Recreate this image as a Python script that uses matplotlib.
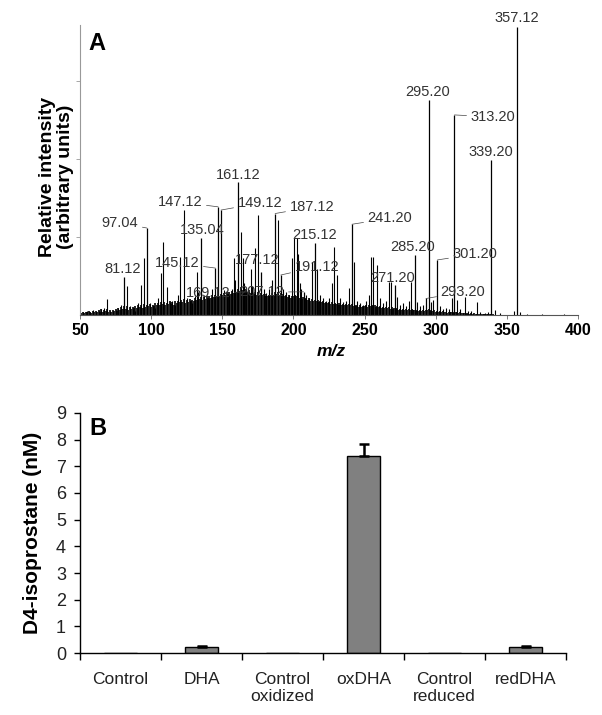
import numpy as np
import matplotlib
matplotlib.use("Agg")
import matplotlib.pyplot as plt

plt.rcParams['font.family'] = ['Liberation Sans', 'DejaVu Sans']

# ---- panel A: MS/MS spectrum (relative intensity, % of base peak) ----
# labelled peaks: m/z, intensity, label position (m/z, intensity), leader line?
peak_mz = [357.12, 295.20, 313.20, 339.20, 161.12, 149.12, 147.12, 187.12, 241.20,
           97.04, 135.04, 215.12, 285.20, 301.20, 177.12, 145.12, 191.12, 81.12,
           271.20, 293.20, 169.12, 207.12]
peak_int = [99.3, 74.1, 69.0, 53.4, 46.0, 36.2, 37.3, 35.0, 31.3,
            30.0, 26.4, 24.7, 20.7, 19.0, 15.0, 16.2, 13.8, 13.2,
            10.3, 5.7, 8.0, 8.0]
label_x = [357.1, 294.6, 340.3, 338.8, 161.0, 176.5, 120.3, 213.0, 267.9,
           78.1, 135.7, 215.2, 284.0, 327.6, 174.4, 118.2, 216.6, 80.2,
           270.0, 319.2, 140.0, 177.9]
label_y = [102.4, 76.9, 68.3, 56.2, 48.3, 38.6, 39.0, 37.2, 33.4,
           31.7, 29.3, 27.6, 23.4, 21.0, 19.0, 17.9, 16.6, 15.9,
           12.8, 7.9, 7.6, 7.9]
leader = [False, False, True, False, False, True, True, True, True,
          True, False, False, False, True, False, True, True, False,
          False, True, True, True]

# other unlabelled peaks
minor_mz = [52, 55, 57, 59, 61, 63, 65, 67, 68.7, 71, 73, 75, 77, 79, 83, 85, 87, 89,
            91, 93, 95, 99, 101, 103, 105, 106.7, 108.4, 111, 113, 115, 117, 119,
            120.3, 122.9, 125, 127, 129, 131, 132, 133, 137, 139, 141, 143, 151, 153,
            155, 157, 158, 159, 163, 164.7, 165, 167, 170.5, 171, 173, 174.9, 179,
            181, 183, 185, 189, 193, 195, 197, 199.2, 200.6, 202.2, 203, 204.6, 205,
            209, 211, 212.8, 216.8, 219, 221, 223, 225, 226.9, 228.7, 230.4, 233, 235,
            237, 239.3, 242.6, 245, 247, 249, 251, 253, 254.5, 256.2, 258.5, 261, 263,
            265, 267.2, 268.6, 272.6, 275, 277, 279, 281, 282.6, 286.6, 289, 291, 297,
            298.2, 303, 305, 307, 309, 311.2, 314.8, 317, 320.6, 323, 325, 328.8, 331,
            335, 337, 341.7, 345, 355, 359, 364.5, 375, 390]
minor_int = [1.0, 1.5, 1.2, 1.8, 1.0, 1.3, 2.0, 2.5, 5.5, 1.5, 1.2, 1.8, 2.5, 3.5, 10.0,
             3.0, 2.2, 1.5, 4.0, 10.3, 19.6, 4.0, 3.0, 2.5, 6.0, 14.4, 25.2, 9.5, 4.5,
             5.0, 3.5, 7.0, 20.0, 36.2, 6.0, 5.0, 4.0, 6.5, 14.8, 8.0, 7.0, 5.5, 6.0,
             9.0, 8.5, 6.0, 7.0, 9.0, 19.6, 12.0, 28.7, 19.6, 11.0, 9.0, 16.0, 10.0,
             23.0, 34.5, 9.0, 7.5, 9.0, 12.0, 32.8, 9.0, 8.0, 7.0, 19.6, 26.4, 26.4,
             21.0, 11.0, 9.0, 7.0, 6.0, 18.4, 16.0, 7.0, 6.0, 5.0, 6.0, 11.0, 23.3,
             13.8, 6.0, 4.5, 5.0, 9.2, 18.4, 5.0, 4.0, 3.5, 5.0, 7.0, 20.0, 20.0, 17.2,
             6.0, 4.0, 5.0, 11.5, 11.5, 6.3, 3.5, 4.0, 3.0, 5.0, 11.5, 4.6, 3.0, 3.5,
             4.5, 5.2, 3.0, 2.0, 2.5, 2.0, 5.7, 5.2, 2.0, 6.3, 1.5, 1.5, 4.6, 1.0, 0.8,
             1.2, 1.7, 0.6, 1.5, 1.0, 0.5, 0.5, 0.5]

# baseline "grass", one value per integer m/z from 50 upwards
grass_start = 50
grass_int = [0.5, 0.8, 1.0, 0.6, 1.2, 0.9, 1.5, 1.0, 0.8, 1.3,
             1.0, 1.4, 0.9, 1.6, 1.2, 2.0, 1.1, 1.8, 1.4, 2.2,
             1.2, 1.6, 1.0, 1.9, 1.3, 2.1, 1.5, 2.4, 1.7, 2.8,
             2.0, 3.0, 2.2, 3.2, 1.8, 2.6, 2.0, 2.9, 2.3, 3.1,
             2.5, 3.4, 2.7, 3.6, 2.4, 3.8, 2.9, 3.5, 3.0, 3.9,
             2.8, 3.6, 3.1, 4.0, 3.3, 4.2, 3.5, 4.4, 3.8, 4.6,
             3.4, 4.1, 3.7, 4.8, 3.9, 4.5, 3.6, 5.0, 4.2, 4.7,
             4.4, 5.2, 4.6, 5.4, 4.1, 5.1, 4.5, 5.6, 4.8, 5.3,
             5.0, 5.8, 5.2, 6.0, 5.4, 6.3, 5.1, 6.1, 5.5, 6.4,
             5.8, 6.5, 6.0, 6.8, 6.2, 7.0, 6.4, 7.2, 6.6, 7.4,
             6.8, 7.5, 7.0, 7.8, 7.2, 8.0, 7.4, 8.3, 7.6, 8.5,
             8.0, 9.0, 8.4, 9.5, 8.8, 9.2, 8.2, 8.9, 7.8, 8.6,
             7.5, 8.2, 7.2, 8.0, 7.0, 7.8, 6.9, 7.6, 6.8, 7.4,
             6.6, 7.2, 6.5, 7.0, 6.8, 7.5, 6.9, 7.8, 7.2, 8.0,
             7.0, 7.6, 6.8, 7.2, 6.5, 7.0, 6.2, 6.8, 6.0, 6.6,
             6.4, 7.0, 6.5, 6.9, 6.0, 6.4, 5.6, 6.1, 5.4, 5.9,
             5.2, 5.7, 5.0, 5.5, 4.8, 5.3, 4.7, 5.1, 4.5, 4.9,
             4.4, 4.8, 4.2, 4.6, 4.0, 4.5, 3.9, 4.4, 3.8, 4.3,
             3.7, 4.2, 3.6, 4.0, 3.5, 3.9, 3.4, 3.8, 3.3, 3.7,
             3.4, 3.9, 3.2, 3.6, 3.0, 3.4, 2.9, 3.3, 2.8, 3.2,
             3.0, 3.5, 2.9, 3.3, 3.1, 3.6, 3.0, 3.4, 2.8, 3.2,
             2.7, 3.0, 2.5, 2.9, 2.4, 2.8, 2.3, 2.7, 2.2, 2.6,
             2.2, 2.5, 2.0, 2.4, 1.9, 2.2, 1.8, 2.1, 1.7, 2.0,
             1.8, 2.1, 1.7, 2.0, 1.6, 1.9, 1.5, 1.8, 1.4, 1.7,
             1.5, 1.8, 1.4, 1.9, 1.6, 2.0, 1.5, 1.8, 1.3, 1.6,
             1.2, 1.5, 1.1, 1.4, 1.0, 1.3, 0.9, 1.2, 0.8, 1.1,
             0.9, 1.2, 0.8, 1.1, 0.9, 1.0, 0.7, 0.9, 0.6, 0.8,
             0.7, 0.8, 0.5, 0.7, 0.5, 0.6, 0.4, 0.6, 0.4, 0.5,
             0.4, 0.5, 0.3, 0.4, 0.3, 0.4, 0.3, 0.4, 0.3, 0.4, 0.3]

# ---- panel B: D4-isoprostane ----
groups = ['Control', 'DHA', 'Control\noxidized', 'oxDHA', 'Control\nreduced', 'redDHA']
conc = [0.0, 0.22, 0.0, 7.38, 0.0, 0.22]
conc_err = [0.0, 0.05, 0.0, 0.47, 0.0, 0.05]

fig = plt.figure(figsize=(6.02, 7.15), dpi=100)

axA = fig.add_axes([0.1329, 0.5594, 0.8272, 0.4056])
grass_mz = grass_start + np.arange(len(grass_int))
axA.vlines(grass_mz, 0, grass_int, color='black', lw=1.2)
axA.vlines(minor_mz, 0, minor_int, color='black', lw=0.8)
axA.vlines(peak_mz, 0, peak_int, color='black', lw=0.9)
for i, lab in enumerate(peak_mz):
    props = dict(arrowstyle='-', lw=0.5, color='#444444', shrinkA=1, shrinkB=0) if leader[i] else None
    axA.annotate(f"{lab:.2f}", xy=(peak_mz[i], peak_int[i]), xytext=(label_x[i], label_y[i]),
                 ha='center', va='center', fontsize=10.5, color='#333333',
                 arrowprops=props, annotation_clip=False)
axA.set_xlim(50, 400)
axA.set_ylim(0, 100)
axA.set_xticks([50, 100, 150, 200, 250, 300, 350, 400])
axA.set_yticks([26.9, 53.8, 80.7])
axA.set_yticklabels([])
axA.tick_params(axis='x', length=3, width=0.6, pad=3, labelsize=11.5, color='#666666')
axA.tick_params(axis='y', length=3, width=0.6, color='#999999')
for lab in axA.get_xticklabels():
    lab.set_fontweight('bold')
axA.spines['top'].set_visible(False)
axA.spines['right'].set_visible(False)
axA.spines['left'].set_color('#999999')
axA.spines['bottom'].set_color('#555555')
axA.text(0.034, 0.935, 'A', transform=axA.transAxes, fontsize=17, fontweight='bold',
         ha='center', va='center')
fig.text(56.5 / 602, 1 - 177 / 715, 'Relative intensity\n(arbitrary units)', rotation=90,
         ha='center', va='center', fontsize=14, fontweight='bold', multialignment='center',
         linespacing=1.15)
fig.text(331 / 602, 1 - 352 / 715, 'm/z', ha='center', va='center', fontsize=12.5,
         fontweight='bold', style='italic')

axB = fig.add_axes([0.1329, 0.0867, 0.8073, 0.3357])
x = np.arange(len(groups))
axB.bar(x, conc, width=0.41, color='#808080', edgecolor='black', lw=1.0, zorder=2)
nz = [i for i in range(len(conc)) if conc_err[i] > 0]
axB.errorbar([x[i] for i in nz], [conc[i] for i in nz],
             yerr=[[0] * len(nz), [conc_err[i] for i in nz]],
             fmt='none', ecolor='black', elinewidth=1.8, capsize=3.5, capthick=1.8, zorder=3)
axB.set_xlim(-0.5, len(groups) - 0.5)
axB.set_ylim(0, 9)
axB.set_yticks(range(10))
axB.set_xticks(x)
axB.set_xticklabels(groups, fontsize=12.5, color='#222222', linespacing=1.15)
axB.set_xticks(np.arange(len(groups) + 1) - 0.5, minor=True)
axB.tick_params(axis='x', which='major', length=0, pad=14)
axB.tick_params(axis='x', which='minor', length=5, width=1.0)
axB.tick_params(axis='y', length=4, width=1.0, pad=6, labelsize=13, labelcolor='#222222')
axB.spines['top'].set_visible(False)
axB.spines['right'].set_visible(False)
axB.spines['left'].set_linewidth(1.0)
axB.spines['bottom'].set_linewidth(1.0)
axB.text(0.037, 0.935, 'B', transform=axB.transAxes, fontsize=17, fontweight='bold',
         ha='center', va='center')
fig.text(33 / 602, 1 - 533 / 715, 'D4-isoprostane (nM)', rotation=90, ha='center',
         va='center', fontsize=15, fontweight='bold')

fig.savefig('out.png', dpi=100)
